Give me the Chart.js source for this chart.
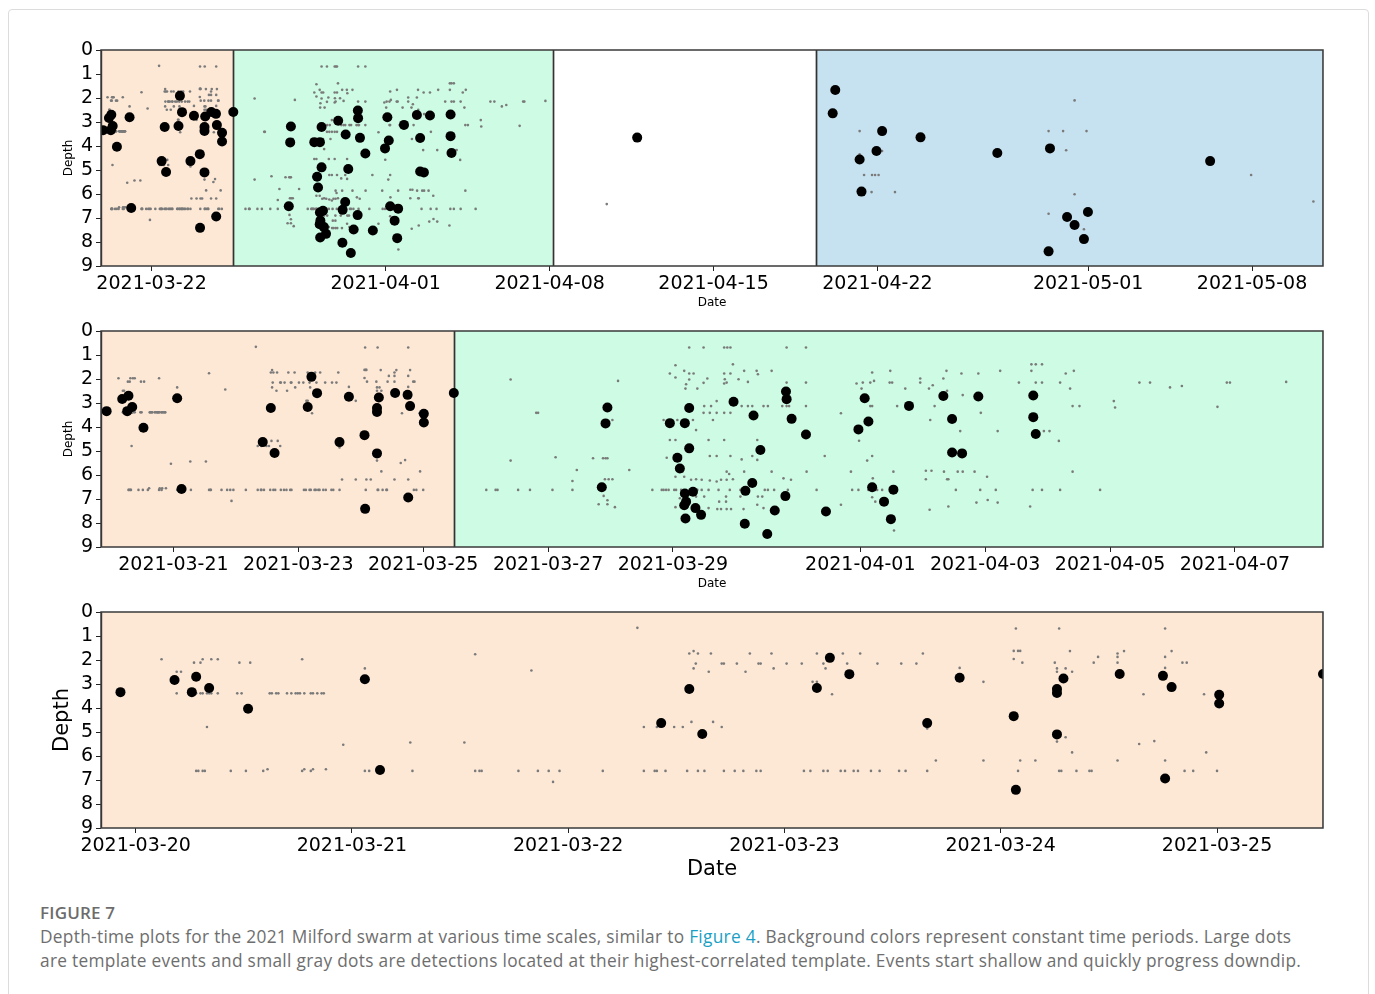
<!DOCTYPE html>
<html>
<head>
<meta charset="utf-8">
<title>Figure 7 - Milford swarm depth-time</title>
<script src="https://cdn.jsdelivr.net/npm/chart.js@4.4.1/dist/chart.umd.min.js"></script>
<style>
  html, body { margin: 0; padding: 0; background: #fff; }
  body { width: 1375px; height: 994px; position: relative; overflow: hidden; font-family: 'Open Sans', sans-serif; }
  .frame { position: absolute; left: 8px; top: 9px; width: 1359px; height: 1010px; border: 1px solid #dcdcdc; border-radius: 4px; }
  canvas { position: absolute; left: 0; }
  #panel1 { top: 30px; }
  #panel2 { top: 311px; }
  #panel3 { top: 592px; }
  .fig-label { position: absolute; left: 40px; top: 901px; font-size: 17px; font-weight: 600; color: #6c6c6c; letter-spacing: 0.2px; }
  .caption { position: absolute; left: 40px; top: 925px; font-size: 17.3px; letter-spacing: 0.3px; line-height: 24px; color: #6e6e6e; white-space: nowrap; }
  .caption span { color: #1a9fc4; }
</style>
</head>
<body>
<div class="frame"></div>
<canvas id="panel1" width="1375" height="280"></canvas>
<canvas id="panel2" width="1375" height="280"></canvas>
<canvas id="panel3" width="1375" height="290"></canvas>
<div class="fig-label">FIGURE 7</div>
<div class="caption">Depth-time plots for the 2021 Milford swarm at various time scales, similar to <span>Figure 4</span>. Background colors represent constant time periods. Large dots<br>are template events and small gray dots are detections located at their highest-correlated template. Events start shallow and quickly progress downdip.</div>

<script>
// x values are "day of March 2021" (20.5 = 2021-03-20 12:00, 32 = 2021-04-01), y is depth

// template events (large dots), [day, depth]
const templatesPeach = [
  [19.93, 3.34], [20.18, 2.83], [20.26, 3.34], [20.28, 2.70], [20.34, 3.17], [20.52, 4.03],
  [21.06, 2.80], [21.13, 6.58], [22.43, 4.63], [22.56, 3.21], [22.62, 5.08], [23.15, 3.17],
  [23.21, 1.91], [23.30, 2.59], [23.66, 4.63], [23.81, 2.74], [24.06, 4.34], [24.07, 7.41],
  [24.26, 5.10], [24.26, 3.21], [24.26, 3.37], [24.29, 2.77], [24.55, 2.58], [24.75, 2.66],
  [24.76, 6.94], [24.79, 3.13], [25.01, 3.45], [25.01, 3.81], [25.49, 2.58]
];
const templatesGreen = [
  [27.86, 6.51], [27.92, 3.85], [27.95, 3.19], [28.95, 3.84], [29.07, 5.28], [29.11, 5.73],
  [29.18, 7.26], [29.19, 6.77], [29.19, 3.84], [29.20, 7.81], [29.21, 7.11], [29.26, 3.21],
  [29.26, 4.89], [29.32, 6.70], [29.36, 7.38], [29.45, 7.66], [29.97, 2.95], [30.15, 8.03],
  [30.16, 6.66], [30.27, 6.33], [30.29, 3.52], [30.40, 4.96], [30.51, 8.46], [30.63, 7.48],
  [30.80, 6.88], [30.81, 2.52], [30.82, 2.84], [30.90, 3.66], [31.13, 4.31], [31.45, 7.52],
  [31.97, 4.10], [32.07, 2.80], [32.13, 3.77], [32.19, 6.51], [32.38, 7.11], [32.49, 7.84],
  [32.53, 6.61], [32.78, 3.12], [33.33, 2.71], [33.47, 3.67], [33.47, 5.06], [33.63, 5.10],
  [33.89, 2.73], [34.77, 2.69], [34.77, 3.59], [34.81, 4.29]
];
const templatesLate = [
  [42.74, 3.65], [51.09, 2.64], [51.20, 1.67], [52.24, 4.56], [52.32, 5.90], [52.96, 4.21],
  [53.20, 3.38], [54.84, 3.64], [58.12, 4.29], [60.31, 8.39], [60.37, 4.10], [61.10, 6.96],
  [61.42, 7.29], [61.82, 7.88], [61.99, 6.75], [67.21, 4.63]
];

// detections (small gray dots), [day, depth]
const detectionsPeach = [
  [20.12, 1.97], [20.19, 2.49], [20.21, 2.49], [20.27, 2.11], [20.30, 2.11], [20.31, 1.97],
  [20.35, 1.97], [20.38, 1.97], [20.48, 2.11], [20.53, 2.11], [20.77, 1.97],
  [20.19, 3.39], [20.28, 3.39], [20.30, 3.39], [20.31, 3.39], [20.33, 3.39], [20.34, 3.39],
  [20.35, 3.39], [20.38, 3.39], [20.47, 3.39], [20.49, 3.39], [20.62, 3.39], [20.63, 3.39],
  [20.65, 3.39], [20.66, 3.39], [20.70, 3.39], [20.72, 3.39], [20.74, 3.39], [20.75, 3.39],
  [20.76, 3.39], [20.78, 3.39], [20.81, 3.39], [20.82, 3.39], [20.84, 3.39], [20.86, 3.39],
  [20.87, 3.39], [20.33, 4.79],
  [20.28, 6.62], [20.29, 6.62], [20.31, 6.62], [20.32, 6.62], [20.44, 6.62], [20.51, 6.62],
  [20.59, 6.62], [20.77, 6.62], [20.81, 6.62], [21.06, 6.62], [21.08, 6.62], [21.28, 6.62],
  [21.57, 6.62], [21.59, 6.62], [21.60, 6.62], [21.77, 6.62], [21.86, 6.62], [21.91, 6.62],
  [21.96, 6.62], [22.16, 6.62], [22.35, 6.62], [22.40, 6.62], [22.41, 6.62], [22.45, 6.62],
  [22.55, 6.62], [22.60, 6.62], [22.63, 6.62], [22.72, 6.62], [22.77, 6.62], [22.81, 6.62],
  [22.87, 6.62], [22.89, 6.62], [23.09, 6.62], [23.12, 6.62], [23.18, 6.62], [23.20, 6.62],
  [23.26, 6.62], [23.28, 6.62], [23.32, 6.62], [23.34, 6.62], [23.40, 6.62], [23.44, 6.62],
  [23.53, 6.62], [23.56, 6.62], [23.66, 6.62], [24.08, 6.62], [24.27, 6.62], [24.28, 6.62],
  [24.35, 6.62], [24.41, 6.62], [24.42, 6.62], [24.85, 6.62], [24.89, 6.62], [25.00, 6.62],
  [20.61, 6.55], [20.78, 6.55], [20.82, 6.55], [20.88, 6.55],
  [20.96, 5.53], [21.06, 2.35], [21.27, 5.44], [21.52, 5.44], [21.57, 1.76], [21.83, 2.44],
  [21.93, 7.08], [22.32, 0.66],
  [22.35, 4.79], [22.41, 4.79], [22.49, 4.79], [22.53, 4.79], [22.57, 4.58],
  [22.56, 1.73], [22.58, 1.63], [22.60, 1.73], [22.59, 2.15], [22.58, 2.35],
  [22.66, 1.73], [22.84, 1.73], [22.94, 1.73], [23.15, 1.73], [23.27, 1.73], [23.35, 1.73],
  [23.64, 1.73],
  [22.71, 2.15], [22.72, 2.15], [22.78, 2.15], [22.88, 2.15], [22.89, 2.15], [23.01, 2.15],
  [23.08, 2.15], [23.18, 2.15], [23.29, 2.15], [23.43, 2.15], [23.54, 2.15], [23.61, 2.15],
  [22.95, 2.35], [23.19, 2.35], [22.65, 2.49], [22.82, 2.49], [23.13, 2.91], [23.15, 2.91],
  [23.81, 2.33], [23.92, 2.91], [23.22, 3.43], [22.67, 4.58], [22.71, 4.79], [23.66, 4.85],
  [23.70, 6.19], [23.92, 6.19], [24.09, 6.19], [24.16, 6.19], [24.54, 6.19], [24.76, 6.19],
  [24.07, 0.69], [24.06, 1.62], [24.08, 1.62], [24.09, 1.62], [24.06, 1.96], [24.10, 2.11],
  [24.27, 0.69], [24.25, 2.11], [24.26, 2.35], [24.30, 2.35], [24.26, 2.49], [24.33, 2.49],
  [24.32, 1.63], [24.43, 2.11], [24.45, 1.87], [24.54, 1.73], [24.54, 1.87], [24.54, 2.11],
  [24.57, 1.63], [24.76, 0.69], [24.79, 1.63], [24.76, 1.87], [24.76, 2.33], [24.84, 2.11],
  [24.86, 2.11], [24.66, 3.43], [24.94, 3.43], [24.30, 5.22], [24.26, 5.40], [24.64, 5.50],
  [24.71, 5.38], [24.33, 5.85], [24.95, 5.85]
];
const detectionsGreen = [
  [26.40, 2.02], [26.81, 3.41], [26.84, 3.41], [26.40, 5.40], [27.12, 5.26],
  [26.01, 6.62], [26.16, 6.62], [26.19, 6.62], [26.52, 6.62], [26.71, 6.62], [27.07, 6.62],
  [27.39, 6.62], [27.39, 6.25], [27.46, 5.79], [27.72, 5.30], [27.88, 5.30], [27.92, 5.30],
  [27.95, 5.30], [27.91, 6.18], [27.97, 6.18], [28.03, 6.18], [27.89, 6.87], [27.95, 7.05],
  [27.81, 7.22], [27.95, 7.22], [28.07, 7.34], [28.03, 3.71], [28.12, 2.08],
  [29.26, 0.69], [29.49, 0.69], [29.82, 0.69], [29.87, 0.69], [29.92, 0.69], [30.82, 0.69],
  [31.13, 0.69],
  [29.04, 1.43], [28.95, 1.77], [29.18, 1.66], [29.26, 1.77], [29.33, 1.77], [29.96, 1.39],
  [29.82, 1.77], [29.92, 1.77], [30.14, 1.66], [30.34, 1.66], [30.58, 1.66], [30.36, 1.80],
  [32.19, 1.73], [32.48, 1.66], [33.38, 1.66], [33.62, 1.77], [33.89, 1.77], [34.24, 1.66],
  [34.74, 1.39], [34.81, 1.39], [34.91, 1.39], [34.74, 1.66], [35.29, 1.77], [35.42, 1.66],
  [29.04, 1.94], [29.26, 2.02], [29.55, 1.98], [29.83, 2.01], [30.05, 2.01], [30.20, 2.12],
  [29.21, 2.22], [29.49, 2.16], [29.82, 2.19], [29.86, 2.15], [30.82, 2.15], [31.13, 2.15],
  [31.94, 2.19], [32.04, 2.15], [32.16, 2.15], [32.22, 2.08], [32.47, 2.15], [32.51, 2.15],
  [32.96, 1.98], [32.96, 2.15], [33.33, 1.98], [34.54, 2.15], [34.81, 2.15], [34.91, 2.15],
  [35.20, 2.15], [36.47, 2.15], [36.64, 2.15], [36.96, 2.35], [37.15, 2.29], [37.87, 2.15],
  [37.92, 2.15], [38.82, 2.12],
  [29.20, 2.40], [29.39, 2.40], [33.16, 2.26], [32.02, 2.40], [32.72, 2.40], [33.10, 2.40],
  [33.39, 2.49], [33.64, 2.67], [35.36, 2.40], [36.06, 2.92],
  [29.70, 2.92], [29.50, 3.13], [29.61, 3.13], [30.10, 3.13], [30.20, 3.13], [30.27, 3.13],
  [30.45, 3.13], [30.52, 3.13], [30.75, 3.13], [30.82, 3.13], [30.86, 3.13], [31.13, 3.13],
  [32.16, 3.13], [32.19, 3.13], [32.59, 3.13], [33.19, 3.13], [35.40, 3.13], [35.51, 3.13],
  [36.08, 3.19], [37.72, 3.16], [31.69, 3.43],
  [29.49, 3.41], [29.59, 3.41], [29.70, 3.41], [29.82, 3.41], [29.92, 3.41], [33.93, 3.41],
  [28.85, 3.71], [29.07, 3.71], [29.32, 3.71], [29.64, 3.71], [33.12, 3.71],
  [29.37, 4.13], [31.98, 4.13], [33.60, 4.17], [34.20, 4.17], [34.94, 4.17], [35.03, 4.17],
  [28.95, 4.54], [29.04, 4.54], [29.57, 4.54], [29.82, 4.54], [30.35, 4.54], [31.98, 4.57],
  [35.18, 4.58],
  [28.90, 5.28], [29.13, 5.21], [29.59, 5.21], [29.70, 5.21], [29.92, 5.21], [30.10, 5.35],
  [30.27, 5.21], [30.35, 5.37], [31.43, 5.21], [32.19, 5.21], [32.11, 5.40],
  [28.30, 5.79], [29.15, 5.86], [29.86, 5.86], [29.90, 5.96], [30.14, 5.86], [30.58, 5.86],
  [31.14, 5.86], [31.85, 5.86], [32.53, 5.86], [33.05, 5.82], [33.14, 5.82], [33.34, 5.86],
  [33.41, 6.18], [33.56, 5.86], [33.64, 5.86], [33.83, 5.86], [35.40, 5.86],
  [29.04, 6.07], [29.18, 6.07], [29.29, 6.20], [29.37, 6.18], [29.46, 6.20], [29.59, 6.23],
  [29.70, 6.27], [29.77, 6.20], [29.86, 6.20], [29.96, 6.18], [30.29, 6.27], [30.77, 6.14],
  [30.89, 6.20], [32.20, 6.14], [33.05, 6.18], [33.39, 6.18], [34.03, 6.07],
  [28.67, 6.62], [28.82, 6.62], [28.85, 6.62], [28.89, 6.62], [28.93, 6.62], [29.02, 6.62],
  [29.05, 6.62], [29.13, 6.62], [29.39, 6.62], [29.46, 6.62], [29.57, 6.62], [29.73, 6.62],
  [29.91, 6.62], [30.08, 6.62], [30.47, 6.62], [30.52, 6.62], [30.62, 6.62], [30.84, 6.62],
  [31.30, 6.62], [31.87, 6.62], [31.97, 6.62], [32.13, 6.62], [32.24, 6.62], [32.27, 6.62],
  [32.35, 6.62], [32.57, 6.62], [33.53, 6.62], [33.92, 6.62], [34.17, 6.62], [34.76, 6.62],
  [34.91, 6.62], [35.20, 6.62], [35.84, 6.62],
  [29.11, 6.97], [29.22, 6.97], [29.37, 6.90], [29.50, 6.90], [29.85, 6.90], [30.08, 6.90],
  [30.36, 6.90], [30.43, 6.90], [29.85, 7.11], [29.74, 7.11], [31.69, 7.24], [32.19, 6.93],
  [32.24, 7.11], [33.86, 7.15], [34.04, 7.04], [34.20, 7.15],
  [29.04, 7.34], [29.16, 7.38], [29.57, 7.38], [29.71, 7.42], [29.77, 7.42], [29.86, 7.42],
  [29.93, 7.42], [30.13, 7.42], [30.35, 7.24], [30.45, 7.38], [33.11, 7.45], [33.41, 7.31],
  [34.72, 7.31], [29.18, 7.84], [32.54, 8.31]
];
const detectionsLate = [
  [41.44, 6.42], [52.24, 3.38], [52.24, 4.35], [52.43, 5.21], [52.77, 5.21], [52.90, 5.21],
  [53.05, 5.21], [52.75, 5.92], [53.75, 5.92], [53.20, 4.21], [53.28, 3.28], [60.31, 3.38],
  [60.93, 3.38], [61.93, 3.38], [61.06, 4.18], [61.42, 2.10], [61.42, 6.01], [60.31, 6.82],
  [61.82, 7.47], [68.96, 5.21], [71.62, 6.31]
];

// tick labels
const depthTicks = [0, 1, 2, 3, 4, 5, 6, 7, 8, 9];
const ticksPanel1 = [22, 32, 39, 46, 53, 62, 69];
const ticksPanel2 = [21, 23, 25, 27, 29, 32, 34, 36, 38];
const ticksPanel3 = [20, 21, 22, 23, 24, 25];

// constant time periods (start day, end day)
const periodsPanel1 = [[19.84, 25.49], [25.49, 39.13], [39.13, 50.375], [50.375, 72.03]];
const periodsPanel2 = [[19.84, 25.49], [25.49, 39.41]];
const periodsPanel3 = [[19.84, 25.49]];
const periodColors = ['#fde8d6', '#cdfbe3', '#ffffff', '#c6e1ef'];

const templates = templatesPeach.concat(templatesGreen, templatesLate);
const detections = detectionsPeach.concat(detectionsGreen, detectionsLate);

Chart.defaults.font.family = "'DejaVu Sans', sans-serif";
Chart.defaults.color = '#000';

function dayLabel(v) {
    const d = new Date(Date.UTC(2021, 2, 1) + (v - 1) * 86400000);
    return d.toISOString().slice(0, 10);
}

const periodPlugin = {
    id: 'periods',
    beforeDatasetsDraw(chart, args, opts) {
        const { ctx, chartArea: a, scales: { x } } = chart;
        ctx.save();
        ctx.beginPath();
        ctx.rect(a.left, a.top, a.right - a.left, a.bottom - a.top);
        ctx.clip();
        opts.spans.forEach((s, i) => {
            const x0 = x.getPixelForValue(s[0]);
            const x1 = x.getPixelForValue(s[1]);
            ctx.fillStyle = periodColors[i];
            ctx.fillRect(x0, a.top, x1 - x0, a.bottom - a.top);
        });
        // dark edges between periods
        ctx.strokeStyle = '#333';
        ctx.lineWidth = 1.4;
        opts.spans.forEach(s => {
            [s[0], s[1]].forEach(v => {
                const px = Math.round(x.getPixelForValue(v)) + 0.5;
                ctx.beginPath();
                ctx.moveTo(px, a.top);
                ctx.lineTo(px, a.bottom);
                ctx.stroke();
            });
        });
        ctx.restore();
    },
    afterDatasetsDraw(chart) {
        const { ctx, chartArea: a } = chart;
        ctx.save();
        ctx.strokeStyle = '#3a3a3a';
        ctx.lineWidth = 1.5;
        ctx.strokeRect(a.left, a.top, a.right - a.left, a.bottom - a.top);
        ctx.restore();
    }
};

function makePanel(id, p) {
    const inRange = d => d[0] >= p.min - 0.3 && d[0] <= p.max + 0.3;
    const toPoint = d => ({ x: d[0], y: d[1] });
    new Chart(document.getElementById(id), {
        type: 'scatter',
        data: {
            datasets: [
                {
                    label: 'templates',
                    data: templates.filter(inRange).map(toPoint),
                    pointRadius: 5,
                    backgroundColor: '#000',
                    borderWidth: 0,
                    clip: 0
                },
                {
                    label: 'detections',
                    data: detections.filter(inRange).map(toPoint),
                    pointRadius: 1.3,
                    backgroundColor: '#7a7a7a',
                    borderWidth: 0,
                    clip: 0
                }
            ]
        },
        options: {
            responsive: false,
            animation: false,
            events: [],
            layout: { padding: { left: p.padLeft, right: 52, top: 20, bottom: 0 } },
            plugins: {
                legend: { display: false },
                tooltip: { enabled: false },
                periods: { spans: p.spans }
            },
            scales: {
                x: {
                    type: 'linear',
                    min: p.min,
                    max: p.max,
                    afterBuildTicks: s => { s.ticks = p.ticks.map(v => ({ value: v })); },
                    afterFit: s => { s.height = p.xHeight; },
                    ticks: {
                        autoSkip: false,
                        maxRotation: 0,
                        padding: 2,
                        font: { size: 19 },
                        callback: v => dayLabel(v)
                    },
                    grid: { drawOnChartArea: false, tickLength: 5, color: '#222' },
                    border: { display: false },
                    title: { display: true, text: 'Date', font: { size: p.titleSize }, padding: 0 }
                },
                y: {
                    type: 'linear',
                    reverse: true,
                    min: 0,
                    max: 9,
                    afterBuildTicks: s => { s.ticks = depthTicks.map(v => ({ value: v })); },
                    afterFit: s => { s.width = p.yWidth; },
                    ticks: { autoSkip: false, padding: 3, font: { size: 19 } },
                    grid: { drawOnChartArea: false, tickLength: 5, color: '#222' },
                    border: { display: false },
                    title: { display: true, text: 'Depth', font: { size: p.titleSize }, padding: 0 }
                }
            }
        },
        plugins: [periodPlugin]
    });
}

makePanel('panel1', { min: 19.84, max: 72.03, ticks: ticksPanel1, spans: periodsPanel1,
    padLeft: 62, yWidth: 39, xHeight: 44, titleSize: 12 });
makePanel('panel2', { min: 19.84, max: 39.41, ticks: ticksPanel2, spans: periodsPanel2,
    padLeft: 62, yWidth: 39, xHeight: 44, titleSize: 12 });
makePanel('panel3', { min: 19.84, max: 25.49, ticks: ticksPanel3, spans: periodsPanel3,
    padLeft: 50, yWidth: 51, xHeight: 54, titleSize: 21 });
</script>
</body>
</html>
